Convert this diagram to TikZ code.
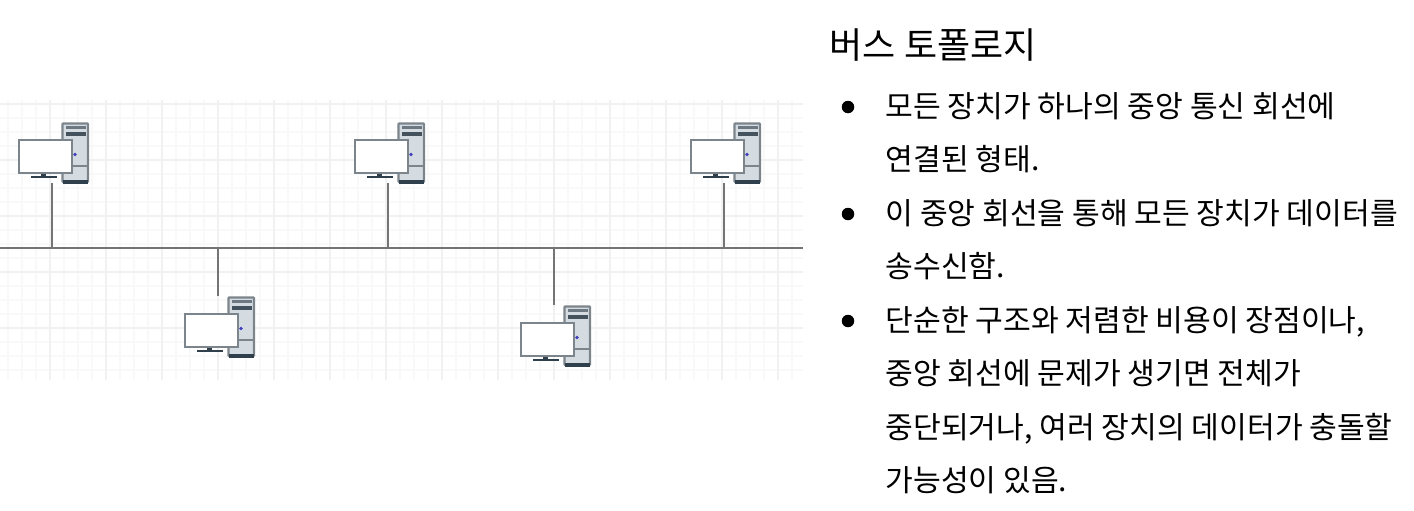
\documentclass[tikz,border=0pt]{standalone}
\usepackage{fontspec}
\setmainfont{Noto Sans CJK KR}
\definecolor{gridmajor}{HTML}{F1F1F1}
\definecolor{gridminor}{HTML}{F9F9F9}
\definecolor{wire}{HTML}{747474}
\definecolor{casing}{HTML}{D5DCE1}
\definecolor{slate}{HTML}{2F3F4C}
\definecolor{edge}{HTML}{7C858B}
\tikzset{
    wireline/.style={draw=wire, line width=0.569pt},
    listline/.style={anchor=base west, inner sep=0pt, font=\fontsize{8.58}{10}\selectfont},
    titleline/.style={anchor=base west, inner sep=0pt, font=\fontsize{10.25}{12}\selectfont},
    listdot/.style={circle, fill=black, minimum size=0.125cm, inner sep=0pt},
    computer/.pic={
        \draw[edge, fill=casing, line width=0.6pt, rounded corners=0.2pt] (0.45,-0.155) rectangle (0.705,0.43);
        \draw[slate, line width=1pt] (0.45,0.43) -- (0.705,0.43);
        \draw[edge, line width=0.4pt] (0.45,0.27) -- (0.705,0.27);
        \fill[slate!70] (0.48,-0.13) rectangle (0.68,-0.105);
        \fill[slate!90] (0.48,-0.07) rectangle (0.68,-0.03);
        \fill[blue!50!gray] (0.575,0.155) circle (0.018);
        \fill[slate] (0.238,0.33) rectangle (0.285,0.38);
        \fill[slate] (0.135,0.37) rectangle (0.39,0.39);
        \node[draw=edge, fill=white, line width=0.6pt, anchor=north west, inner sep=0pt,
            minimum width=0.53cm, minimum height=0.33cm] (-screen) at (0,0) {};
    }
}
\begin{document}
\begin{tikzpicture}[x=1cm, y=-1cm]
    \useasboundingbox (0,0) rectangle (14.14,5.11);

    % backdrop
    \foreach \gx in {0.08,0.22,...,8.03}
        \draw[gridminor, line width=0.3pt] (\gx,1.0) -- (\gx,3.8);
    \foreach \gy in {1.04,1.18,...,3.8}
        \draw[gridminor, line width=0.3pt] (0,\gy) -- (8.03,\gy);
    \foreach \gx in {0.5,1.06,...,8.03}
        \draw[gridmajor, line width=0.4pt] (\gx,1.0) -- (\gx,3.8);
    \foreach \gy in {1.04,1.6,...,3.8}
        \draw[gridmajor, line width=0.4pt] (0,\gy) -- (8.03,\gy);

    % computers
    \pic (pc1) at (0.175,1.39) {computer};
    \pic (pc2) at (3.535,1.39) {computer};
    \pic (pc3) at (6.895,1.39) {computer};
    \pic (pc4) at (1.835,3.13) {computer};
    \pic (pc5) at (5.195,3.22) {computer};

    % bus
    \coordinate (busL) at (0,2.48);
    \coordinate (busR) at (8.03,2.48);
    \coordinate (tap1) at (0.52,2.48);
    \coordinate (tap2) at (3.88,2.48);
    \coordinate (tap3) at (7.24,2.48);
    \coordinate (tap4) at (2.18,2.48);
    \coordinate (tap5) at (5.54,2.48);
    \coordinate (port1) at (0.52,1.83);
    \coordinate (port2) at (3.88,1.83);
    \coordinate (port3) at (7.24,1.83);
    \coordinate (port4) at (2.18,2.96);
    \coordinate (port5) at (5.54,3.05);

    \draw[wireline] (busL) -- (busR);
    \foreach \i in {1,...,5}
        \draw[wireline] (port\i) -- (tap\i);

    % text
    \node[titleline] (title) at (8.29,0.585) {버스 토폴로지};

    \node[listline] (l1) at (8.85,1.17) {모든 장치가 하나의 중앙 통신 회선에};
    \node[listline] (l2) at (8.85,1.705) {연결된 형태.};
    \node[listline] (l3) at (8.85,2.24) {이 중앙 회선을 통해 모든 장치가 데이터를};
    \node[listline] (l4) at (8.85,2.77) {송수신함.};
    \node[listline] (l5) at (8.85,3.31) {단순한 구조와 저렴한 비용이 장점이나,};
    \node[listline] (l6) at (8.85,3.84) {중앙 회선에 문제가 생기면 전체가};
    \node[listline] (l7) at (8.85,4.38) {중단되거나, 여러 장치의 데이터가 충돌할};
    \node[listline] (l8) at (8.85,4.91) {가능성이 있음.};

    \node[listdot] (d1) at (8.48,1.07) {};
    \node[listdot] (d2) at (8.48,2.14) {};
    \node[listdot] (d3) at (8.48,3.21) {};
\end{tikzpicture}
\end{document}
